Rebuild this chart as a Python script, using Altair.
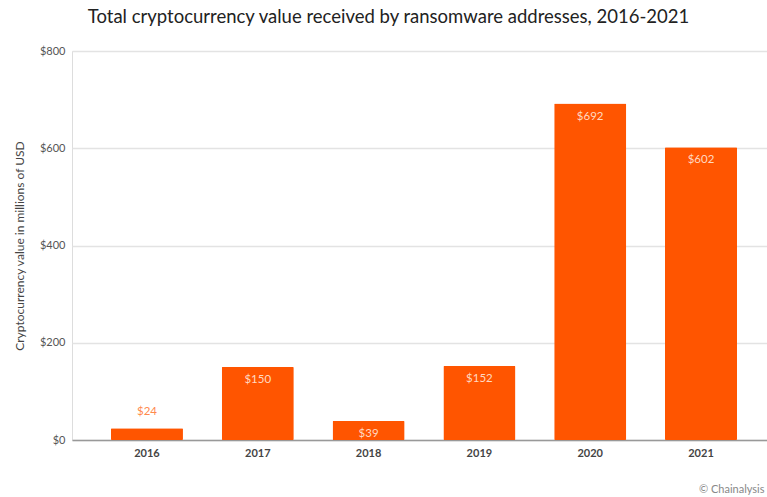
import altair as alt
import pandas as pd

years = ["2016", "2017", "2018", "2019", "2020", "2021"]
values = [24, 150, 39, 152, 692, 602]
labels = ["$24", "$150", "$39", "$152", "$692", "$602"]

df = pd.DataFrame({"year": years, "value": values, "label": labels})

FONT = "Lato"
BAR = "#ff5500"

base = alt.Chart(df)

x = alt.X("year:N", sort=years, title=None,
          scale=alt.Scale(paddingInner=0.35, paddingOuter=0.311, align=0.565),
          axis=alt.Axis(labelAngle=0, labelFont=FONT, labelFontSize=11,
                        labelFontWeight="bold", labelColor="#444444",
                        labelPadding=7, ticks=False, domainColor="#999999",
                        domainWidth=1.5))
y = alt.Y("value:Q", title="Cryptocurrency value in millions of  USD",
          scale=alt.Scale(domain=[0, 800]),
          axis=alt.Axis(values=[0, 200, 400, 600, 800], labelExpr="'$' + datum.value",
                        labelFont=FONT, labelFontSize=11, labelColor="#555555",
                        labelPadding=7, ticks=False, domain=False,
                        gridColor="#e3e3e3", gridWidth=1.5,
                        titleFont=FONT, titleFontSize=12, titleFontWeight="normal",
                        titleColor="#444444", titlePadding=13))

bars = base.mark_bar(color=BAR, cornerRadius=1).encode(x=x, y=y)

inside = base.transform_filter("datum.value >= 30").mark_text(
    baseline="top", dy=7, font=FONT, fontSize=11.5, color="#ffd9c2"
).encode(x=alt.X("year:N", sort=years), y="value:Q", text="label:N")

outside = base.transform_filter("datum.value < 30").mark_text(
    baseline="bottom", dy=-11, font=FONT, fontSize=11.5, color="#ff8a4d"
).encode(x=alt.X("year:N", sort=years), y="value:Q", text="label:N")

credit = alt.Chart(pd.DataFrame({"t": ["© Chainalysis"]})).mark_text(
    align="left", baseline="middle", font=FONT, fontSize=11, color="#888888"
).encode(x=alt.value(627), y=alt.value(439), text="t:N")

chart = alt.layer(bars, inside, outside, credit).properties(
    width=695, height=389,
    title=alt.TitleParams(
        "Total cryptocurrency value received by ransomware addresses, 2016-2021",
        font=FONT, fontSize=18.5, fontWeight="normal", color="#222222",
        anchor="middle", dx=-31, offset=19),
    padding={"left": 72, "top": 51, "right": 0, "bottom": 57},
    autosize=alt.AutoSizeParams(type="none"),
).configure_view(stroke=None).configure(background="white")

chart.save("out.html", embed_options={"renderer": "svg", "actions": False})
